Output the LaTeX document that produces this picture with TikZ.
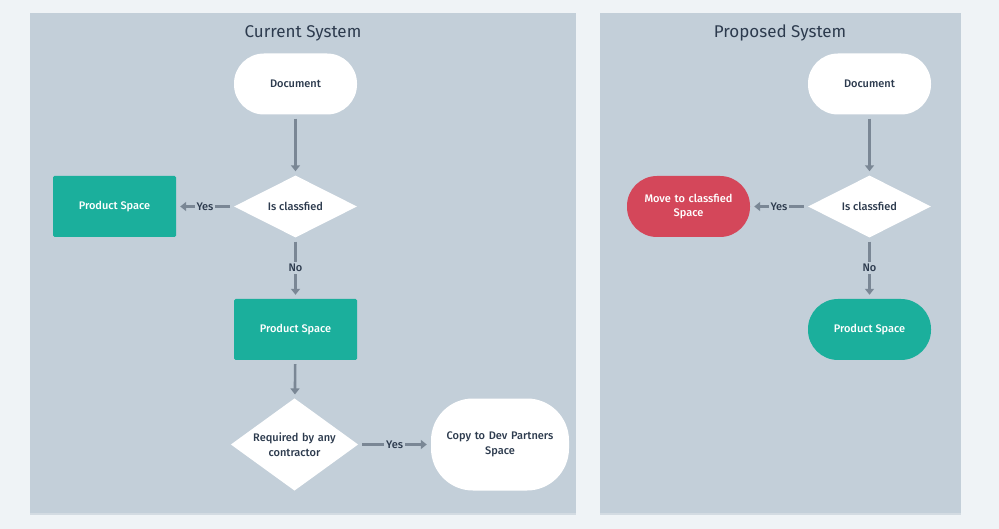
\documentclass[tikz,border=0pt]{standalone}
\usepackage{fontspec}
\setmainfont{Fira Sans}[UprightFont={* Medium}]
\newfontfamily\titlefont{Fira Sans}
\usetikzlibrary{shapes.geometric,arrows.meta}
\definecolor{pagebg}{HTML}{EFF3F6}
\definecolor{panel}{HTML}{C3CFD9}
\definecolor{panelshadow}{HTML}{D3DBE2}
\definecolor{teal}{HTML}{1BAF9C}
\definecolor{redx}{HTML}{D4475A}
\definecolor{linec}{HTML}{7A8795}
\definecolor{txt}{HTML}{2D3B4E}
\tikzset{
  base/.style={font=\fontsize{11}{14.5}\selectfont, text=txt, inner sep=0pt, align=center},
  pill/.style={base, fill=white, minimum width=123pt, minimum height=61pt, rounded corners=30pt},
  bigpill/.style={base, fill=white, minimum width=138pt, minimum height=92pt, rounded corners=42pt, text width=120pt},
  tealbox/.style={base, fill=teal, text=white, minimum width=123pt, minimum height=61pt, rounded corners=1.5pt},
  tealpill/.style={base, fill=teal, text=white, minimum width=123pt, minimum height=61pt, rounded corners=30pt},
  redpill/.style={base, fill=redx, text=white, minimum width=123pt, minimum height=61pt, rounded corners=30pt, text width=110pt},
  decide/.style={base, diamond, fill=white, minimum width=123pt, minimum height=62pt, aspect=2},
  decidebig/.style={base, diamond, fill=white, minimum width=127pt, minimum height=92pt, aspect=1.38, text width=95pt},
  flow/.style={draw=linec, line width=2.6pt, -{Triangle[length=6pt,width=9pt]}, shorten >=4pt, shorten <=4pt},
  lbl/.style={font=\fontsize{11}{14}\selectfont, text=txt, fill=panel, inner sep=2pt},
  title/.style={font=\titlefont\fontsize{17}{20}\selectfont, text=txt},
}
\begin{document}
\begin{tikzpicture}[x=1pt,y=-1pt]
\useasboundingbox (0,0) rectangle (999,529);
\fill[pagebg] (0,0) rectangle (999,529);
% panels with slight shadow
\fill[panelshadow] (30,14) rectangle (576,514.5);
\fill[panel] (30,13) rectangle (576,513);
\fill[panelshadow] (600,14) rectangle (961,514.5);
\fill[panel] (600,13) rectangle (961,513);
\node[title] (t1) at (303,33) {Current System};
\node[title] (t2) at (780,33) {Proposed System};

% Current system
\node[pill] (doc1) at (295.5,84) {Document};
\node[decide] (cls1) at (295.5,206.5) {Is classfied};
\node[tealbox] (ps1) at (114.5,206.5) {Product Space};
\node[tealbox] (ps2) at (295.5,329.5) {Product Space};
\node[decidebig] (req) at (294.5,444.5) {Required by any\\contractor};
\node[bigpill] (copy) at (500,444.5) {Copy to Dev Partners\\Space};

\draw[flow] (doc1) -- (cls1);
\draw[flow] (cls1) -- node[lbl] {Yes} (ps1);
\draw[flow] (cls1) -- node[lbl] {No} (ps2);
\draw[flow] (ps2) -- (req);
\draw[flow] (req) -- node[lbl] {Yes} (copy);

% Proposed system
\node[pill] (doc2) at (869.5,84) {Document};
\node[decide] (cls2) at (869.5,206.5) {Is classfied};
\node[redpill] (move) at (688.5,206.5) {Move to classfied\\Space};
\node[tealpill] (ps3) at (869.5,329.5) {Product Space};

\draw[flow] (doc2) -- (cls2);
\draw[flow] (cls2) -- node[lbl] {Yes} (move);
\draw[flow] (cls2) -- node[lbl] {No} (ps3);
\end{tikzpicture}
\end{document}
